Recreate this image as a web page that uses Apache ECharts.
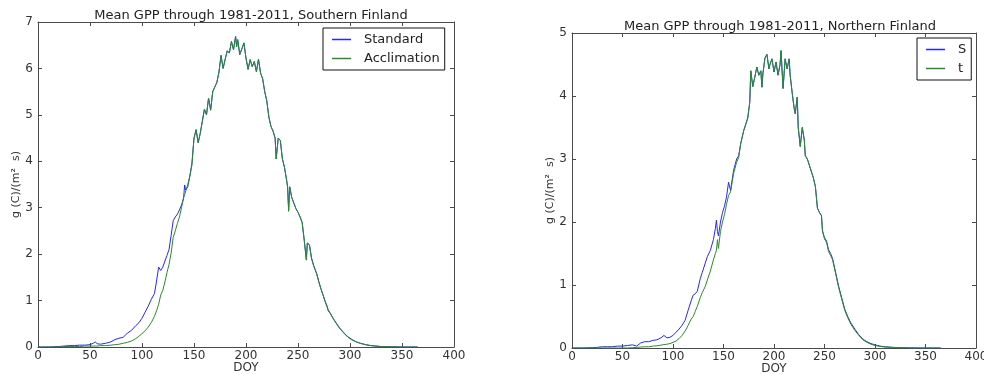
<!DOCTYPE html>
<html>
<head>
<meta charset="utf-8">
<script src="https://cdn.jsdelivr.net/npm/echarts@6/dist/echarts.min.js"></script>
<style>
  html, body { margin: 0; padding: 0; background: #ffffff; }
  #chart { width: 984px; height: 374px; }
</style>
</head>
<body>
<div id="chart"></div>
<script>
// Day-of-year grid and mean daily GPP, Southern Finland
const doySouth = [
  1, 10, 20, 25, 30, 35, 40, 45, 50, 53,
  55, 57, 60, 65, 70, 74, 78, 82, 86, 90,
  94, 97, 100, 103, 106, 109, 112, 114, 116, 118,
  120, 122, 124, 126, 128, 130, 132, 134, 136, 138,
  140, 141, 142, 144, 146, 148, 150, 152, 154, 156,
  158, 160, 162, 164, 166, 168, 170, 172, 174, 176,
  178, 180, 182, 184, 186, 188, 189, 190, 191, 192,
  194, 196, 198, 200, 202, 204, 206, 208, 210, 212,
  214, 216, 218, 220, 222, 224, 226, 228, 229, 231,
  233, 235, 237, 239, 240, 241, 242, 244, 246, 248,
  250, 252, 254, 256, 258, 259, 261, 263, 265, 268,
  270, 272, 274, 276, 278, 279, 281, 284, 287, 290,
  294, 298, 302, 306, 310, 315, 320, 325, 330, 340,
  350, 365
];
const standardSouth = [
  0, 0, 0.01, 0.02, 0.03, 0.03, 0.04, 0.04, 0.05, 0.08,
  0.11, 0.07, 0.06, 0.08, 0.11, 0.16, 0.19, 0.21, 0.3, 0.36,
  0.46, 0.52, 0.62, 0.75, 0.88, 1.03, 1.15, 1.42, 1.72, 1.65,
  1.72, 1.85, 1.97, 2.1, 2.4, 2.72, 2.8, 2.86, 2.95, 3.06,
  3.2, 3.49, 3.38, 3.45, 3.68, 3.95, 4.5, 4.68, 4.4, 4.6,
  4.86, 5.12, 5.0, 5.36, 5.1, 5.5, 5.6, 5.7, 5.92, 6.28,
  6.0, 6.2, 6.38, 6.33, 6.58, 6.4, 6.55, 6.69, 6.47, 6.62,
  6.3, 6.42, 6.55, 6.22, 5.98, 6.19, 6.04, 6.15, 5.93, 6.2,
  5.9, 5.78, 5.5, 5.3, 4.95, 4.75, 4.65, 4.5, 4.05, 4.5,
  4.45, 4.05, 3.87, 3.6, 3.45, 2.95, 3.45, 3.22, 3.1, 2.98,
  2.9, 2.8, 2.68, 2.3, 1.9, 2.24, 2.2, 1.92, 1.76, 1.58,
  1.41, 1.26, 1.13, 0.99, 0.88, 0.8, 0.73, 0.61, 0.51, 0.41,
  0.31, 0.22, 0.16, 0.11, 0.08, 0.05, 0.03, 0.02, 0.01, 0.005,
  0, 0
];
const acclimationSouth = [
  0, 0, 0, 0.01, 0.01, 0.01, 0.01, 0.02, 0.02, 0.02,
  0.02, 0.02, 0.03, 0.03, 0.04, 0.05, 0.06, 0.08, 0.1, 0.13,
  0.18, 0.23, 0.29, 0.35, 0.43, 0.53, 0.66, 0.78, 0.92, 1.12,
  1.22, 1.4, 1.6, 1.78, 2.02, 2.36, 2.5, 2.66, 2.8, 3.0,
  3.22, 3.28, 3.3, 3.5, 3.68, 3.92, 4.5, 4.68, 4.4, 4.6,
  4.86, 5.12, 5.0, 5.36, 5.1, 5.5, 5.6, 5.7, 5.92, 6.28,
  6.0, 6.2, 6.38, 6.33, 6.58, 6.4, 6.55, 6.69, 6.47, 6.62,
  6.3, 6.42, 6.55, 6.22, 5.98, 6.19, 6.04, 6.15, 5.93, 6.2,
  5.9, 5.78, 5.5, 5.3, 4.95, 4.75, 4.65, 4.5, 4.05, 4.5,
  4.45, 4.05, 3.87, 3.6, 3.45, 2.92, 3.45, 3.22, 3.1, 2.98,
  2.9, 2.8, 2.68, 2.3, 1.87, 2.24, 2.2, 1.9, 1.75, 1.57,
  1.4, 1.25, 1.12, 0.98, 0.86, 0.78, 0.72, 0.6, 0.5, 0.4,
  0.3, 0.21, 0.15, 0.11, 0.08, 0.05, 0.03, 0.02, 0.01, 0.005,
  0, 0
];

// Day-of-year grid and mean daily GPP, Northern Finland
const doyNorth = [
  1, 10, 20, 25, 30, 35, 40, 45, 50, 55,
  60, 64, 68, 72, 76, 80, 84, 88, 91, 94,
  97, 100, 103, 106, 109, 112, 115, 118, 120, 122,
  124, 127, 129, 132, 134, 137, 140, 142, 143, 144,
  145, 147, 149, 151, 153, 155, 157, 160, 163, 165,
  167, 170, 172, 174, 176, 177, 179, 181, 183, 185,
  187, 188, 189, 191, 193, 195, 196, 198, 200, 202,
  204, 206, 207, 208, 209, 211, 213, 215, 216, 218,
  220, 221, 223, 224, 226, 228, 230, 231, 233, 236,
  239, 241, 243, 245, 247, 248, 250, 252, 254, 256,
  258, 261, 264, 267, 270, 273, 276, 280, 284, 288,
  292, 296, 300, 305, 310, 318, 325, 335, 345, 365
];
const standardNorth = [
  0, 0, 0.005, 0.01, 0.02, 0.02, 0.02, 0.03, 0.03, 0.04,
  0.05, 0.03, 0.08, 0.1, 0.1, 0.12, 0.13, 0.16, 0.2, 0.16,
  0.17, 0.2, 0.25, 0.3, 0.36, 0.44, 0.6, 0.75, 0.84, 0.86,
  0.9, 1.1, 1.2, 1.35, 1.45, 1.55, 1.72, 1.9, 2.03, 1.85,
  1.78, 2.0, 2.15, 2.25, 2.4, 2.63, 2.5, 2.82, 3.0, 3.05,
  3.24, 3.45, 3.55, 3.65, 3.9, 4.4, 4.15, 4.3, 4.46, 4.33,
  4.4, 4.14, 4.35, 4.6, 4.66, 4.43, 4.5, 4.59, 4.38, 4.54,
  4.33, 4.5, 4.72, 4.4, 4.12, 4.59, 4.43, 4.59, 4.33, 4.05,
  3.8, 3.72, 3.98, 3.5, 3.2, 3.5, 3.3, 3.05, 3.0, 2.85,
  2.7, 2.56, 2.22, 2.15, 2.1, 1.86, 1.75, 1.7, 1.56, 1.5,
  1.42, 1.2, 0.98, 0.8, 0.62, 0.5, 0.4, 0.3, 0.21, 0.14,
  0.1, 0.07, 0.05, 0.03, 0.02, 0.01, 0.005, 0.002, 0, 0
];
const acclimationNorth = [
  0, 0, 0, 0, 0, 0, 0, 0, 0, 0,
  0.005, 0.01, 0.015, 0.02, 0.02, 0.03, 0.035, 0.045, 0.055, 0.06,
  0.07, 0.09, 0.11, 0.15, 0.2, 0.27, 0.36, 0.46, 0.5, 0.58,
  0.66, 0.8, 0.88, 0.98, 1.08, 1.22, 1.4, 1.5, 1.55, 1.72,
  1.58, 1.85, 2.0, 2.12, 2.28, 2.42, 2.48, 2.77, 2.95, 3.02,
  3.24, 3.45, 3.55, 3.65, 3.9, 4.4, 4.15, 4.3, 4.46, 4.33,
  4.4, 4.14, 4.35, 4.6, 4.66, 4.43, 4.5, 4.59, 4.38, 4.54,
  4.33, 4.5, 4.72, 4.4, 4.12, 4.59, 4.43, 4.59, 4.33, 4.05,
  3.8, 3.72, 3.98, 3.5, 3.2, 3.5, 3.3, 3.05, 3.0, 2.85,
  2.7, 2.56, 2.22, 2.15, 2.1, 1.86, 1.73, 1.68, 1.53, 1.47,
  1.4, 1.18, 0.96, 0.78, 0.6, 0.48, 0.38, 0.28, 0.2, 0.13,
  0.09, 0.06, 0.04, 0.025, 0.015, 0.008, 0.004, 0.001, 0, 0
];

const xTicks = { min: 0, max: 400, interval: 50 };
const titles = ['Mean GPP through 1981-2011, Southern Finland', 'Mean GPP through 1981-2011, Northern Finland'];
const legendSouth = ['Standard', 'Acclimation'];
const legendNorth = ['S', 't'];
const yLabel = 'g (C)/(m\u00B2  s)';

const FONT = 'DejaVu Sans';
const FRAME = '#4a4a4a';
const BLUE = '#2626ff';
const GREEN = '#2a8c2a';

function pairs(xs, ys) { return xs.map((x, i) => [x, ys[i]]); }

function xAxisFor(grid, top) {
  return {
    type: 'value', gridIndex: grid, position: top ? 'top' : 'bottom',
    min: xTicks.min, max: xTicks.max, interval: xTicks.interval,
    name: top ? '' : 'DOY', nameLocation: 'middle', nameGap: 15,
    nameMoveOverlap: false,
    nameTextStyle: { fontFamily: FONT, fontSize: 12, color: '#333', verticalAlign: 'top' },
    axisLine: { show: true, onZero: false, lineStyle: { color: FRAME, width: 1 } },
    axisTick: { show: true, inside: true, length: 4, lineStyle: { color: FRAME } },
    axisLabel: { show: !top, margin: 3, fontFamily: FONT, fontSize: 12, color: '#333' },
    splitLine: { show: false }
  };
}
function yAxisFor(grid, max, right) {
  return {
    type: 'value', gridIndex: grid, position: right ? 'right' : 'left',
    min: 0, max: max, interval: 1,
    name: right ? '' : yLabel, nameLocation: 'middle', nameGap: 15,
    nameTextStyle: { fontFamily: FONT, fontSize: 11, color: '#333' },
    axisLine: { show: true, onZero: false, lineStyle: { color: FRAME, width: 1 } },
    axisTick: { show: true, inside: true, length: 4, lineStyle: { color: FRAME } },
    axisLabel: { show: !right, margin: 5, fontFamily: FONT, fontSize: 12, color: '#333' },
    splitLine: { show: false }
  };
}
function line(name, xIdx, yIdx, data, color) {
  return {
    name: name, type: 'line', xAxisIndex: xIdx, yAxisIndex: yIdx,
    data: data, showSymbol: false, symbol: 'none', smooth: false,
    color: color, lineStyle: { color: color, width: 1 }
  };
}
function legendBox(names, left, top) {
  return {
    data: names, orient: 'vertical', left: left, top: top,
    icon: 'rect', itemWidth: 19, itemHeight: 1.5, itemGap: 6,
    padding: [5, 5, 5, 9],
    borderColor: '#111', borderWidth: 1, backgroundColor: '#fff',
    textStyle: { fontFamily: FONT, fontSize: 13, color: '#222', padding: [0, 0, 0, 8] }
  };
}

const chart = echarts.init(document.getElementById('chart'), null, { renderer: 'canvas' });
chart.setOption({
  animation: false,
  backgroundColor: '#ffffff',
  title: [
    { text: titles[0], left: 246, top: 4, textAlign: 'center',
      textStyle: { fontFamily: FONT, fontSize: 13, fontWeight: 'normal', color: '#222' } },
    { text: titles[1], left: 775, top: 15, textAlign: 'center',
      textStyle: { fontFamily: FONT, fontSize: 13, fontWeight: 'normal', color: '#222' } }
  ],
  legend: [legendBox(legendSouth, 323, 28), legendBox(legendNorth, 917, 38)],
  grid: [
    { left: 38, top: 22, width: 416, height: 325, containLabel: false, outerBoundsMode: 'none' },
    { left: 572, top: 33, width: 404, height: 315, containLabel: false, outerBoundsMode: 'none' }
  ],
  xAxis: [xAxisFor(0, false), xAxisFor(0, true), xAxisFor(1, false), xAxisFor(1, true)],
  yAxis: [yAxisFor(0, 7, false), yAxisFor(0, 7, true), yAxisFor(1, 5, false), yAxisFor(1, 5, true)],
  series: [
    line(legendSouth[0], 0, 0, pairs(doySouth, standardSouth), BLUE),
    line(legendSouth[1], 0, 0, pairs(doySouth, acclimationSouth), GREEN),
    line(legendNorth[0], 2, 2, pairs(doyNorth, standardNorth), BLUE),
    line(legendNorth[1], 2, 2, pairs(doyNorth, acclimationNorth), GREEN)
  ]
});
</script>
</body>
</html>
